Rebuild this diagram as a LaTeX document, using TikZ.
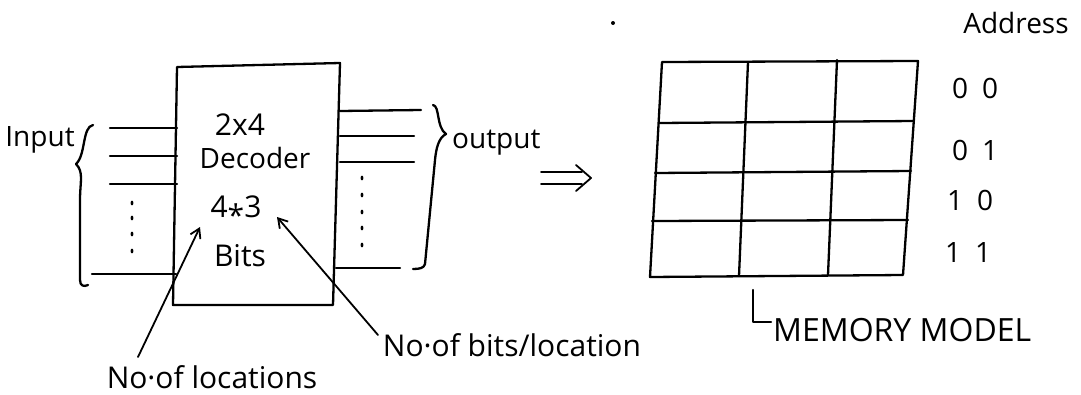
\documentclass[tikz,border=0pt]{standalone}
\usepackage{fontspec}
\setmainfont{Open Sans}
\usetikzlibrary{arrows.meta,calc,shapes.geometric}
\begin{document}
\begin{tikzpicture}[x=1pt,y=-1pt,
  pen/.style={line width=2.3pt,line cap=round,line join=round},
  thinpen/.style={line width=1.8pt,line cap=round,line join=round},
  arr/.style={thinpen,-{Straight Barb[length=9pt,width=11pt,line width=1.8pt]}},
  txt/.style={inner sep=0pt,font=\fontsize{28}{32}\selectfont},
  big/.style={inner sep=0pt,font=\fontsize{30}{34}\selectfont},
  dotm/.style={fill=black,ellipse,inner sep=0pt,minimum width=2.8pt,minimum height=4.8pt}]
\useasboundingbox (0,0) rectangle (1081,394);

% decoder box
\draw[pen] (177,67) -- (340,63) -- (333,305) -- (173,305) -- cycle;
\node[big] (n24) at (240,125) {2x4};
\node[txt] (dec) at (255,158) {Decoder};
\node[big] (n43) at (236,211) {4\raisebox{-0.28em}{*}3};
\node[big] (bits) at (240,256) {Bits};

% input lines
\draw[pen] (110,128) -- (177,128);
\draw[pen] (110,156) -- (177,156);
\draw[pen] (110,184) -- (177,184);
\draw[pen] (92,274) -- (176,274);
\foreach \y in {203,218,234,251} \node[dotm] at (132,\y) {};
\draw[pen] (93,125) .. controls (82,127) and (86,155) .. (76,164)
  .. controls (84,172) and (80,182) .. (80,200) -- (80,280)
  .. controls (80,286) and (84,287) .. (88,285);
\node[txt] (inp) at (40,140) {Input};

% output lines
\draw[pen] (340,111) -- (421,110);
\draw[pen] (340,136) -- (414,136);
\draw[pen] (340,162) -- (414,162);
\draw[pen] (336,268) -- (400,268);
\foreach \y in {178,195,212,228,245} \node[dotm] at (362,\y) {};
\draw[pen] (433,105) .. controls (440,106) and (436,127) .. (446,134)
  .. controls (438,138) and (436,150) .. (435,160) -- (425,264)
  .. controls (424,268) and (420,269) .. (413,269);
\node[txt,anchor=west] (out) at (452,143) {output};

% implication arrow
\coordinate (i1) at (541,172);
\coordinate (i2) at (541,184);
\coordinate (itip) at (591,178);
\draw[thinpen] (i1) -- (582,172);
\draw[thinpen] (i2) -- (582,184);
\draw[thinpen] (576,165) -- (itip) -- (576,191);

% stray dot
\node[fill=black,circle,inner sep=0pt,minimum size=4pt] (sdot) at (613,23) {};

% memory grid
\draw[pen] (662,62) -- (918,61) -- (903,275) -- (650,277) -- cycle;
\draw[pen] (659,123) -- (914,121);
\draw[pen] (655,173) -- (911,171);
\draw[pen] (652,221) -- (908,220);
\draw[pen] (748,62) -- (739,276);
\draw[pen] (837,60) -- (828,275);

% address
\node[txt] (addr) at (1016,23) {Address};
\node[txt] (a00) at (975,88) {0\hspace{14pt}0};
\node[txt] (a01) at (975,150) {0\hspace{14pt}1};
\node[txt] (a10) at (970,200) {1\hspace{14pt}0};
\node[txt] (a11) at (968,253) {1\hspace{14pt}1};

% memory model label
\node[big,anchor=west,font=\fontsize{32}{36}\selectfont] (mm) at (773,330) {MEMORY MODEL};
\draw[pen] (753,290) -- (753,322) -- (771,322);

% annotations
\node[big] (loc) at (212,377) {No·of locations};
\node[big] (bpl) at (512,345) {No·of bits/location};
\coordinate (t1) at (138,357);
\coordinate (h1) at (200,227);
\coordinate (t2) at (378,335);
\coordinate (h2) at (277,217);
\draw[arr] (t1) -- (h1);
\draw[arr] (t2) -- (h2);
\end{tikzpicture}
\end{document}
